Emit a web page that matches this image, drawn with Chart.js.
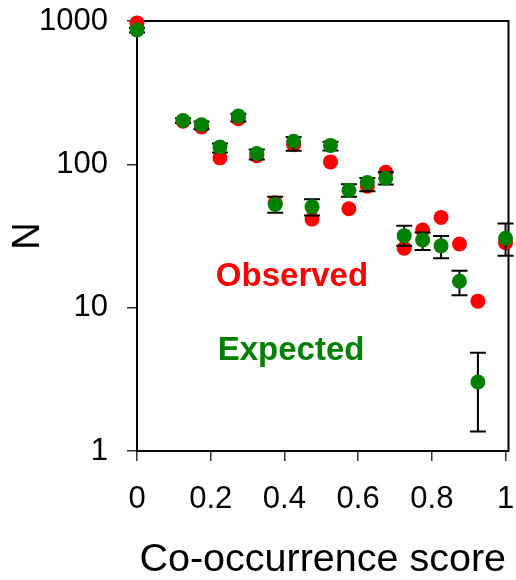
<!DOCTYPE html>
<html>
<head>
<meta charset="utf-8">
<script src="https://cdn.jsdelivr.net/npm/chart.js@4"></script>
<style>
  body { margin: 0; background: #fff; }
</style>
</head>
<body>
<canvas id="chart1" width="516" height="580"></canvas>
<script>
const scores = [0, 0.125, 0.175, 0.225, 0.275, 0.325, 0.375, 0.425, 0.475, 0.525,
    0.575, 0.625, 0.675, 0.725, 0.775, 0.825, 0.875, 0.925, 1];
const observed = [970, 200, 182, 111, 208, 115, 54, 137, 41.5, 104,
    49, 70.4, 88, 26, 34.8, 42.6, 27.8, 11.1, 28.4];
const expected = [866, 202, 189, 132, 217, 119, 52.5, 145, 50.5, 135.5,
    66, 74.6, 80, 31.8, 29.7, 27, 15.3, 3.03, 30.5];
const expectedLow = [830, 194, 176, 121, 199, 108, 45.9, 124.5, 44, 125,
    59.3, 65, 72.3, 27, 25.3, 22.1, 12.2, 1.37, 23];
const expectedHigh = [898, 210, 199, 140, 225, 127, 59.3, 155, 57, 144,
    72.6, 80.4, 87.9, 37.3, 33.4, 31.6, 18.1, 4.85, 38.7];

const xTicks = [0, 0.2, 0.4, 0.6, 0.8, 1];
const yTicks = [1, 10, 100, 1000];

const RED = "#ff0000";
const GREEN = "#008000";
const FONT = "'Liberation Sans', Arial, sans-serif";

// in-plot labels, anchored in data units (left edge, baseline)
const seriesLabels = [
    { text: "Observed", x: 0.214, y: 14.2, color: RED },
    { text: "Expected", x: 0.219, y: 4.3, color: GREEN },
];

const toPoints = (ys) => scores.map((x, i) => ({ x, y: ys[i] }));

// error bars of the expected series, drawn after the red dots, under the green ones
const errorBars = {
    id: "errorBars",
    afterDatasetDraw(chart, args) {
        if (args.index !== 1) return;
        const { ctx, scales: { x, y } } = chart;
        const cap = 8;
        ctx.save();
        ctx.strokeStyle = "#000";
        ctx.lineWidth = 2;
        scores.forEach((s, i) => {
            const px = x.getPixelForValue(s);
            const top = y.getPixelForValue(expectedHigh[i]);
            const bot = y.getPixelForValue(expectedLow[i]);
            ctx.beginPath();
            ctx.moveTo(px, top);
            ctx.lineTo(px, bot);
            ctx.moveTo(px - cap, top);
            ctx.lineTo(px + cap, top);
            ctx.moveTo(px - cap, bot);
            ctx.lineTo(px + cap, bot);
            ctx.stroke();
        });
        ctx.restore();
    },
};

const frame = {
    id: "frame",
    beforeDatasetsDraw(chart) {
        const { ctx, chartArea: a } = chart;
        ctx.save();
        ctx.strokeStyle = "#000";
        ctx.lineWidth = 2;
        ctx.strokeRect(a.left, a.top, a.right - a.left, a.bottom - a.top);
        ctx.restore();
    },
};

const textLabels = {
    id: "textLabels",
    afterDraw(chart) {
        const { ctx, scales: { x, y } } = chart;
        ctx.save();
        ctx.font = "bold 33px " + FONT;
        ctx.textAlign = "left";
        ctx.textBaseline = "alphabetic";
        seriesLabels.forEach((l) => {
            ctx.fillStyle = l.color;
            ctx.fillText(l.text, x.getPixelForValue(l.x), y.getPixelForValue(l.y));
        });
        ctx.restore();
    },
};

const tickGrid = {
    drawOnChartArea: false,
    drawTicks: true,
    tickLength: 10,
    color: "#333",
    lineWidth: 1.5,
};

new Chart(document.getElementById("chart1"), {
    type: "scatter",
    data: {
        datasets: [
            {
                label: "Expected",
                data: toPoints(expected),
                backgroundColor: GREEN,
                borderWidth: 0,
                pointRadius: 7.5,
                clip: false,
            },
            {
                label: "Observed",
                data: toPoints(observed),
                backgroundColor: RED,
                borderWidth: 0,
                pointRadius: 7.5,
                clip: false,
            },
        ],
    },
    options: {
        responsive: false,
        animation: false,
        devicePixelRatio: 1,
        layout: { padding: { top: 21, right: 2, left: 0, bottom: 0 } },
        plugins: {
            legend: { display: false },
            tooltip: { enabled: false },
        },
        scales: {
            x: {
                type: "linear",
                min: 0,
                max: 1.008,
                afterBuildTicks: (scale) => {
                    scale.ticks = xTicks.map((value) => ({ value }));
                },
                afterFit: (scale) => {
                    scale.height = 129;
                    scale.paddingLeft = 0;
                    scale.paddingRight = 0;
                },
                grid: tickGrid,
                border: { display: false },
                ticks: {
                    color: "#000",
                    padding: 20,
                    maxRotation: 0,
                    font: { family: FONT, size: 31 },
                    callback: (v) => String(v),
                },
                title: {
                    display: true,
                    text: "Co-occurrence score",
                    color: "#000",
                    font: { family: FONT, size: 39.5, lineHeight: 1 },
                    padding: { top: 0, bottom: 0 },
                },
            },
            y: {
                type: "logarithmic",
                min: 1,
                max: 1000,
                afterBuildTicks: (scale) => {
                    scale.ticks = yTicks.map((value) => ({ value }));
                },
                afterFit: (scale) => {
                    scale.width = 137;
                    scale.paddingTop = 0;
                    scale.paddingBottom = 0;
                },
                grid: tickGrid,
                border: { display: false },
                ticks: {
                    color: "#000",
                    padding: 19,
                    font: { family: FONT, size: 31 },
                    callback: (v) => String(v),
                },
                title: {
                    display: true,
                    text: "N",
                    color: "#000",
                    font: { family: FONT, size: 38, lineHeight: 1 },
                    padding: { top: 10, bottom: 0 },
                },
            },
        },
    },
    plugins: [frame, errorBars, textLabels],
});
</script>
</body>
</html>
